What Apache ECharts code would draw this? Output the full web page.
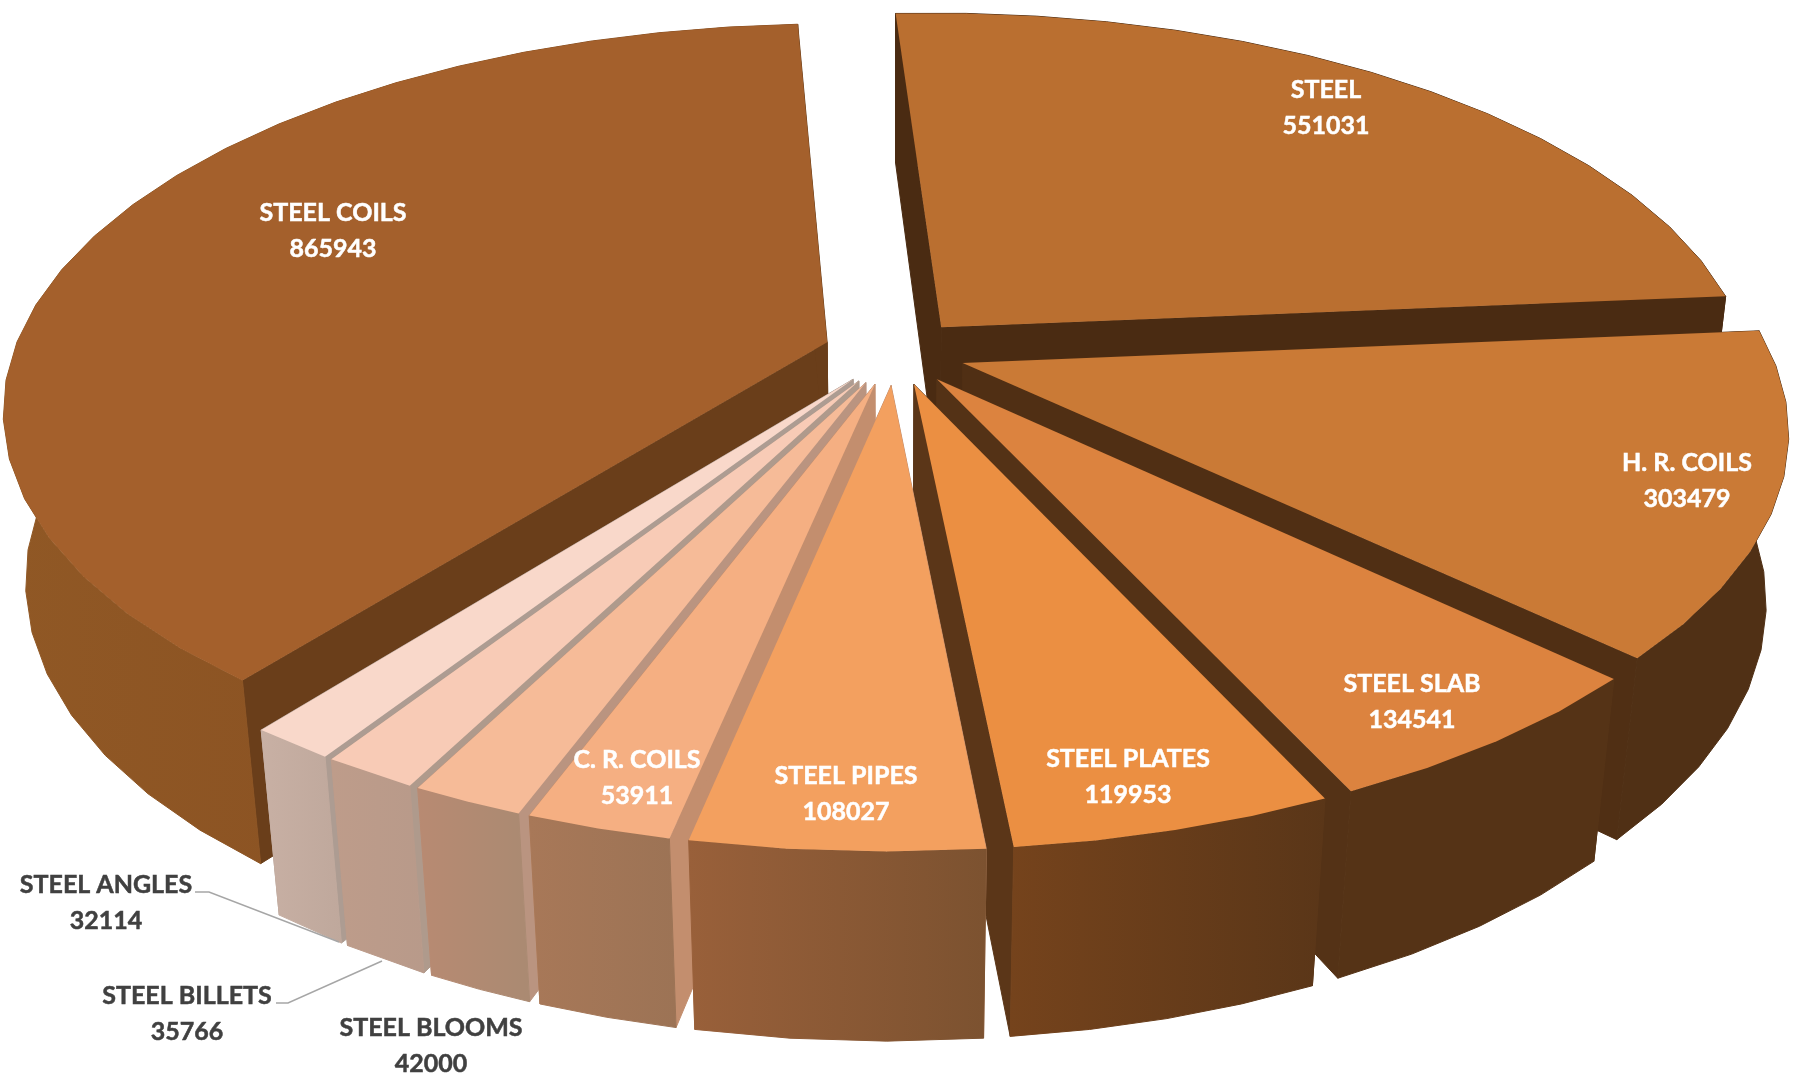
<!DOCTYPE html>
<html>
<head>
<meta charset="utf-8">
<style>html,body{margin:0;padding:0;background:#fff}#chart{width:1802px;height:1074px}</style>
<script src="https://cdn.jsdelivr.net/npm/echarts@6/dist/echarts.min.js"></script>
</head>
<body>
<div id="chart"></div>
<script>
// Steel product volumes, clockwise from the top of the pie.
const categories = ['STEEL', 'H. R. COILS', 'STEEL SLAB', 'STEEL PLATES', 'STEEL PIPES',
  'C. R. COILS', 'STEEL BLOOMS', 'STEEL BILLETS', 'STEEL ANGLES', 'STEEL COILS'];
const volumes = [551031, 303479, 134541, 119953, 108027, 53911, 42000, 35766, 32114, 865943];

// Surface colours per slice: top face, cut face, rim gradient (left, right).
const topColors = ['#BA6F30', '#CA7A36', '#DC833F', '#EB8F42', '#F3A05F', '#F5AF82', '#F6BB98', '#F8CBB6', '#F9D8CA', '#A4602C'];
const cutColors = ['#4A2B12', '#502F14', '#543216', '#5B3618', '#C38E6E', '#C38E6E', '#BA9480', '#AF9A8C', '#AD9C92', '#6A3E1A'];
const rimLeft = ['#4A2B12', '#503015', '#553316', '#75431C', '#99603A', '#A87858', '#B88A72', '#BE9C8A', '#C8B0A4', '#905825'];
const rimRight = ['#4A2B12', '#503015', '#553316', '#5A3618', '#7C5230', '#9C7355', '#AA8A72', '#B89A8A', '#BFA89C', '#854C20'];

// Painter's order: far slices first, the slice nearest the viewer last.
const drawOrder = [9, 0, 1, 2, 3, 8, 7, 6, 5, 4];

// Label anchors and leader lines (pixels).
const labelAnchors = [[1326, 108], [1687, 481], [1412, 702], [1128, 777], [846, 794],
  [637, 778], [431, 1046], [187, 1014], [106, 903], [333, 231]];
const darkLabels = [6, 7, 8];
const leaders = [
  [[195, 892], [209, 892], [339, 942]],
  [[276, 1003], [288, 1003], [382, 961]]
];

// Camera model of the tilted, exploded disc.
const VIEW = { cx: 895, cy: 352, R: 811, Rk: 375, H: 172, p: 0.1686, q: 0.025, yaw: 0.003, explode: 0.088, startDeg: -3.25, stepDeg: 6 };

const total = volumes.reduce((a, b) => a + b, 0);
const startAngles = [];
volumes.reduce((acc, v, i) => { startAngles[i] = acc; return acc + v / total * 360; }, VIEW.startDeg);

function project(u, v, z) {
  const w = 1 + VIEW.p * v + VIEW.q * z + VIEW.yaw * u;
  return [VIEW.cx + VIEW.R * u / w, VIEW.cy + (-VIEW.Rk * v + VIEW.H * z) / w];
}

function renderSlice(params, api) {
  const idx = api.value(0);
  const a0 = api.value(1) * Math.PI / 180;
  const a1 = a0 + api.value(2) / total * Math.PI * 2;
  const mid = (a0 + a1) / 2;
  const ou = VIEW.explode * Math.sin(mid);
  const ov = VIEW.explode * Math.cos(mid);
  const step = VIEW.stepDeg * Math.PI / 180;
  const n = Math.max(1, Math.ceil((a1 - a0) / step));
  const rimAt = (t, z) => project(ou + Math.sin(t), ov + Math.cos(t), z);
  const topRim = [];
  const botRim = [];
  for (let i = 0; i <= n; i++) {
    const t = a0 + (a1 - a0) * i / n;
    topRim.push(rimAt(t, 0));
    botRim.push(rimAt(t, 1));
  }
  const apexTop = project(ou, ov, 0);
  const apexBot = project(ou, ov, 1);
  // A hairline stroke in the fill colour closes anti-aliasing seams between faces.
  const poly = (points, fill, seal) => ({
    type: 'polygon',
    shape: { points },
    style: seal ? { fill, stroke: fill, lineWidth: 1, lineJoin: 'round' } : { fill, stroke: null },
    silent: true
  });
  const rimFill = new echarts.graphic.LinearGradient(0, 0, 1, 0, [
    { offset: 0, color: rimLeft[idx] },
    { offset: 1, color: rimRight[idx] }
  ]);
  return {
    type: 'group',
    children: [
      poly([apexTop, topRim[0], botRim[0], apexBot], cutColors[idx], true),
      poly([apexTop, topRim[n], botRim[n], apexBot], cutColors[idx], true),
      poly(topRim.concat(botRim.slice().reverse()), rimFill, true),
      poly([apexTop].concat(topRim), topColors[idx], false)
    ]
  };
}

function renderLabel(params, api) {
  const idx = api.value(0);
  const at = labelAnchors[idx];
  const dark = darkLabels.indexOf(idx) >= 0;
  const ink = dark ? '#404040' : '#FFFFFF';
  return {
    type: 'text',
    x: at[0],
    y: at[1],
    silent: true,
    style: {
      text: categories[idx] + '\n' + api.value(1),
      fill: ink,
      stroke: ink,
      lineWidth: 0.5,
      font: 'bold 25px Lato, "Open Sans", sans-serif',
      lineHeight: 36,
      align: 'center',
      verticalAlign: 'middle'
    }
  };
}

function renderLeader(params, api) {
  return {
    type: 'polyline',
    shape: { points: leaders[api.value(0)] },
    silent: true,
    style: { stroke: '#A6A6A6', lineWidth: 1.5, fill: null }
  };
}

const chart = echarts.init(document.getElementById('chart'), null, { renderer: 'canvas' });
chart.setOption({
  animation: false,
  backgroundColor: '#FFFFFF',
  series: [
    {
      type: 'custom',
      coordinateSystem: 'none',
      silent: true,
      z: 1,
      renderItem: renderSlice,
      data: drawOrder.map(i => [i, startAngles[i], volumes[i]])
    },
    {
      type: 'custom',
      coordinateSystem: 'none',
      silent: true,
      z: 2,
      renderItem: renderLeader,
      data: leaders.map((_, i) => [i])
    },
    {
      type: 'custom',
      coordinateSystem: 'none',
      silent: true,
      z: 3,
      renderItem: renderLabel,
      data: volumes.map((v, i) => [i, v])
    }
  ]
});
</script>
</body>
</html>
